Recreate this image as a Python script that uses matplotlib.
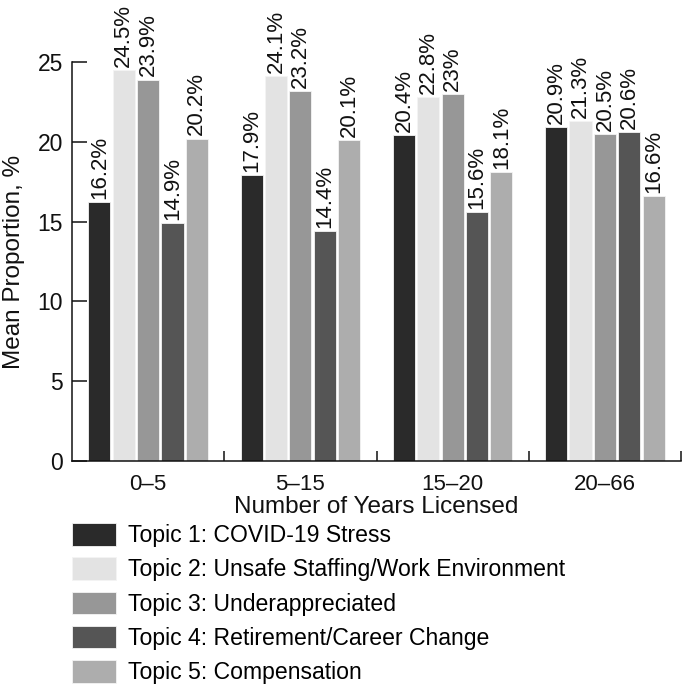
import numpy as np
import matplotlib
matplotlib.use("Agg")
import matplotlib.pyplot as plt

# data
groups = ["0–5", "5–15", "15–20", "20–66"]
topics = [
    "Topic 1: COVID-19 Stress",
    "Topic 2: Unsafe Staffing/Work Environment",
    "Topic 3: Underappreciated",
    "Topic 4: Retirement/Career Change",
    "Topic 5: Compensation",
]
topic1 = [16.2, 17.9, 20.4, 20.9]
topic2 = [24.5, 24.1, 22.8, 21.3]
topic3 = [23.9, 23.2, 23.0, 20.5]
topic4 = [14.9, 14.4, 15.6, 20.6]
topic5 = [20.2, 20.1, 18.1, 16.6]
labels1 = ["16.2%", "17.9%", "20.4%", "20.9%"]
labels2 = ["24.5%", "24.1%", "22.8%", "21.3%"]
labels3 = ["23.9%", "23.2%", "23%", "20.5%"]
labels4 = ["14.9%", "14.4%", "15.6%", "20.6%"]
labels5 = ["20.2%", "20.1%", "18.1%", "16.6%"]

series = [topic1, topic2, topic3, topic4, topic5]
series_labels = [labels1, labels2, labels3, labels4, labels5]
colors = ["#2a2a2a", "#e3e3e3", "#979797", "#555555", "#adadad"]

plt.rcParams["font.family"] = ["Liberation Sans", "DejaVu Sans"]

fig = plt.figure(figsize=(6.82, 6.9), dpi=100)
ax = fig.add_axes([72 / 682, 1 - 461 / 690, 609 / 682, 399 / 690])

x = np.arange(len(groups))
pitch = 0.16
width = 0.145
for i, (vals, labs) in enumerate(zip(series, series_labels)):
    pos = x + (i - 2) * pitch
    bars = ax.bar(pos, vals, width, color=colors[i], edgecolor="#f4f4f4",
                  linewidth=0.6, label=topics[i])
    for b, lab in zip(bars, labs):
        ax.text(b.get_x() + b.get_width() / 2, b.get_height() + 0.2, lab,
                rotation=90, ha="center", va="bottom", fontsize=16,
                color="#111111")

ax.set_xlim(-0.5, 3.5)
ax.set_ylim(0, 25)
ax.spines["top"].set_visible(False)
ax.spines["right"].set_visible(False)
for s in ["left", "bottom"]:
    ax.spines[s].set_linewidth(1.1)
    ax.spines[s].set_color("#111111")

ax.set_yticks([0, 5, 10, 15, 20, 25])
ax.tick_params(axis="y", direction="in", length=11, width=1.1, pad=6.5,
               labelsize=16.5, colors="#111111")
ax.set_xticks(x)
ax.set_xticklabels(groups)
ax.set_xticks([0.5, 1.5, 2.5, 3.5], minor=True)
ax.tick_params(axis="x", which="major", length=0, pad=9, labelsize=16,
               colors="#111111")
ax.tick_params(axis="x", which="minor", direction="in", length=7, width=1.1,
               color="#111111")

ax.set_xlabel("Number of Years Licensed", fontsize=17.5, labelpad=1,
              color="#111111")
ax.set_ylabel("Mean Proportion, %", fontsize=17.5, color="#111111")
ax.yaxis.set_label_coords(-0.077, 0.5)

ax.legend(loc="upper left", bbox_to_anchor=(72 / 682, 1 - 523 / 690),
          bbox_transform=fig.transFigure, frameon=False, fontsize=16.6,
          handlelength=1.91, handleheight=1.13, labelspacing=0.44,
          handletextpad=0.52, borderpad=0, borderaxespad=0)

fig.savefig("out.png", dpi=100)
